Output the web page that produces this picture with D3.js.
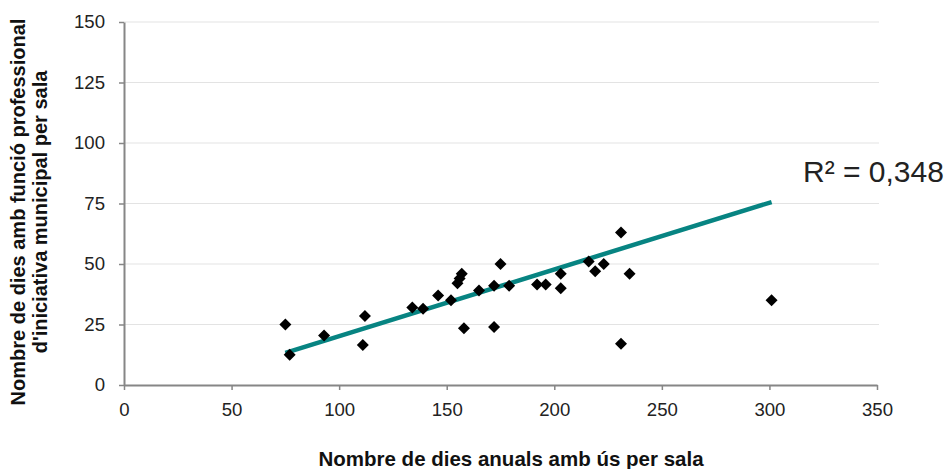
<!DOCTYPE html>
<html><head><meta charset="utf-8">
<script src="https://cdn.jsdelivr.net/npm/d3@7"></script>
<style>body{margin:0;background:#fff}svg{display:block;font-family:"Liberation Sans",Arial,sans-serif}</style>
</head><body>
<svg id="c" width="952" height="469"></svg>
<script>
const xVals = [75, 77, 93, 112, 111, 134, 139, 146, 152, 155, 156, 157, 158, 165, 172, 175, 172, 179, 192, 196, 203, 203, 216, 219, 223, 231, 235, 231, 301];
const yVals = [25, 12.5, 20.5, 28.5, 16.5, 32, 31.5, 37, 35, 42, 44, 46, 23.5, 39, 41, 50, 24, 41, 41.5, 41.5, 46, 40, 51, 47, 50, 63, 46, 17, 35];
const trendX = [75, 301];
const trendY = [13.3, 75.6];
const xTicks = [0, 50, 100, 150, 200, 250, 300, 350];
const yTicks = [0, 25, 50, 75, 100, 125, 150];
const r2Label = "R² = 0,348";
const xTitle = "Nombre de dies anuals amb ús per sala";
const yTitle = ["Nombre de dies amb funció professional", "d'iniciativa municipal per sala"];

const svg = d3.select("#c");
const x = d3.scaleLinear().domain([0, 350]).range([124, 877]);
const y = d3.scaleLinear().domain([0, 150]).range([385, 22]);

// gridlines
svg.append("g").selectAll("line").data(yTicks.filter(d => d > 0)).join("line")
  .attr("x1", x(0)).attr("x2", x(350) + 2).attr("y1", d => y(d)).attr("y2", d => y(d))
  .attr("stroke", "#e3e3e3").attr("stroke-width", 1);

const xAxis = svg.append("g").attr("transform", `translate(0,${y(0)})`)
  .call(d3.axisBottom(x).tickValues(xTicks).tickSize(5).tickPadding(13).tickSizeOuter(0));
const yAxis = svg.append("g").attr("transform", `translate(${x(0)},0)`)
  .call(d3.axisLeft(y).tickValues(yTicks).tickSize(5).tickPadding(14).tickSizeOuter(0));
[xAxis, yAxis].forEach(g => {
  g.select(".domain").attr("stroke", "#868686").attr("stroke-width", 2);
  g.selectAll(".tick line").attr("stroke", "#868686").attr("stroke-width", 1.5);
  g.selectAll(".tick text").attr("fill", "#222").style("font-size", "18.6px").style("font-family", '"Liberation Sans",Arial,sans-serif');
});

// trend line
svg.append("line")
  .attr("x1", x(trendX[0])).attr("y1", y(trendY[0]))
  .attr("x2", x(trendX[1])).attr("y2", y(trendY[1]))
  .attr("stroke", "#078482").attr("stroke-width", 4.5);

// points
const sym = d3.symbol().type(d3.symbolSquare).size(72);
svg.append("g").selectAll("path").data(xVals.map((v, i) => [v, yVals[i]])).join("path")
  .attr("d", sym).attr("fill", "#000")
  .attr("transform", d => `translate(${x(d[0])},${y(d[1])}) rotate(45)`);

svg.append("text").attr("x", 803).attr("y", 182).attr("fill", "#222")
  .style("font-size", "30px").text(r2Label);

svg.append("text").attr("x", 511).attr("y", 466).attr("text-anchor", "middle")
  .style("font-size", "20.5px").style("font-weight", "bold").attr("fill", "#111").text(xTitle);

const yt = svg.append("text").attr("transform", "translate(0,212) rotate(-90)")
  .attr("text-anchor", "middle").style("font-size", "20px").style("font-weight", "bold").attr("fill", "#111");
yt.append("tspan").attr("x", 0).attr("y", 25).text(yTitle[0]);
yt.append("tspan").attr("x", 0).attr("y", 47).text(yTitle[1]);
</script>
</body></html>
